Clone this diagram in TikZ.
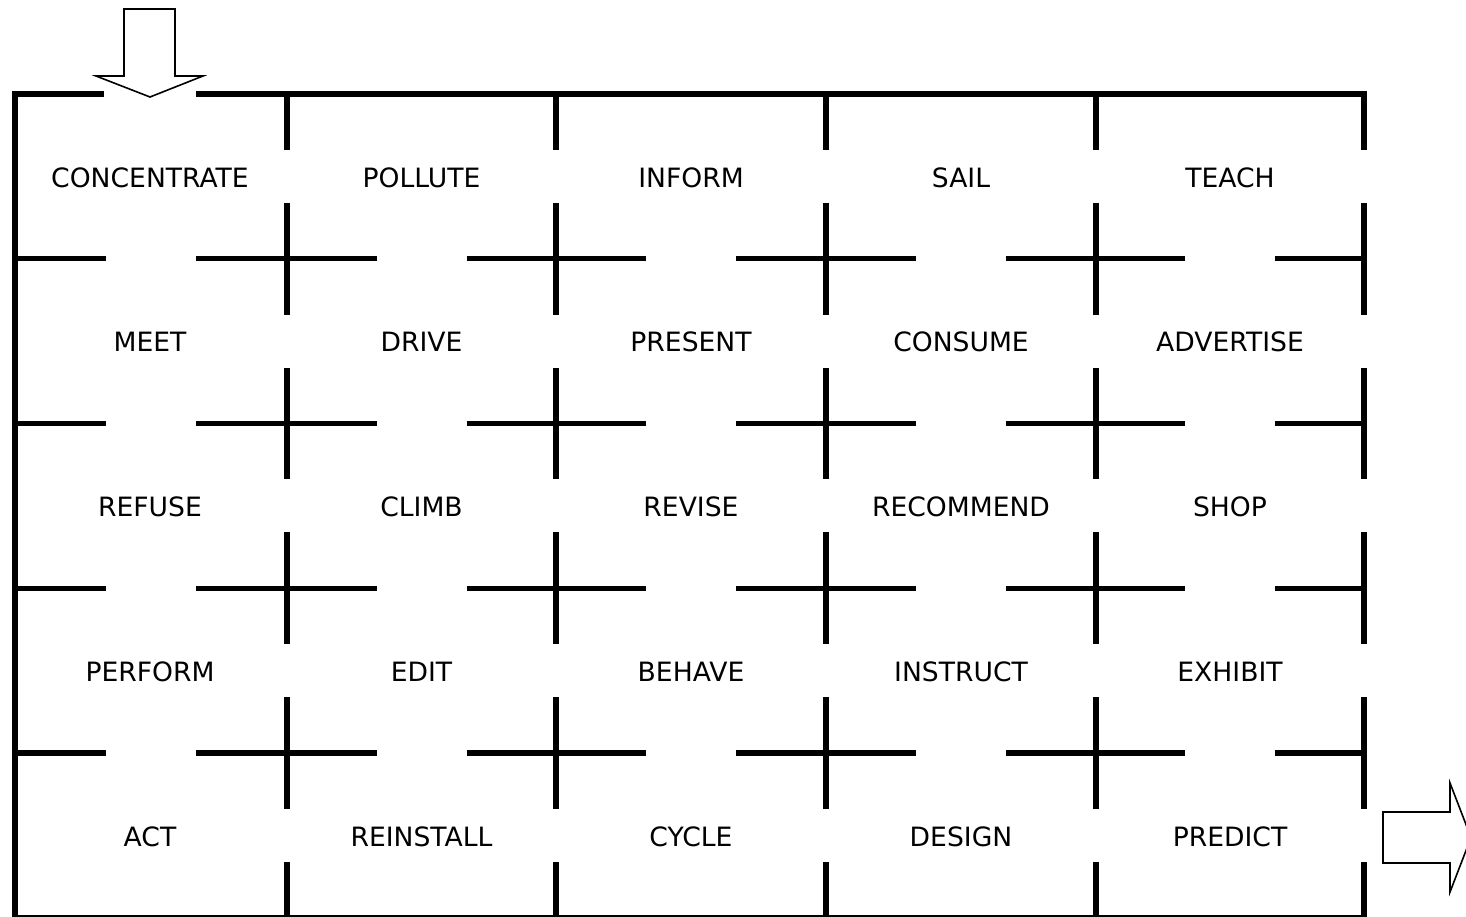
\documentclass[tikz,border=0pt]{standalone}
\usepackage{fontspec}
\setmainfont{DejaVu Sans}
\usetikzlibrary{calc}

\begin{document}
\begin{tikzpicture}[x=0.5pt, y=-0.5pt,
    wall/.style={line width=2.6pt},
    word/.style={font=\fontsize{13.3}{15}\selectfont, inner sep=0pt},
    bigarrow/.style={draw=black, fill=white, line width=0.8pt, line join=miter}]
  \useasboundingbox (0,0) rectangle (1466,916);
  % outer border
  \draw[wall] (104,94) -- (15,94) -- (15,917.75) -- (1364,917.75) -- (1364,862);
  \draw[wall] (196,94) -- (1364,94) -- (1364,150);
  % inner horizontal walls, gap in each cell
  \foreach \yy in {258.75,423.5,588.25,753}
    \foreach \xa/\xb in {15/287,287/556,556/826,826/1096,1096/1364} {
      \draw[wall] (\xa,\yy) -- ({(\xa+\xb)/2-45},\yy);
      \draw[wall] ({(\xa+\xb)/2+45},\yy) -- (\xb,\yy);
    }
  % vertical walls, gap in each cell
  \foreach \xx in {287,556,826,1096,1364}
    \foreach \ya/\yb in {94/258.75,258.75/423.5,423.5/588.25,588.25/753,753/917.75} {
      \draw[wall] (\xx,\ya) -- (\xx,{(\ya+\yb)/2-26.5});
      \draw[wall] (\xx,{(\ya+\yb)/2+26.5}) -- (\xx,\yb);
    }
  % entrance and exit
  \draw[bigarrow] (124,9) -- (175,9) -- (175,76) -- (203,76) -- (150,97)
        -- (96,76) -- (124,76) -- cycle;
  \draw[bigarrow] (1383,812) -- (1450,812) -- (1450,783) -- (1471,837.5)
        -- (1450,892) -- (1450,863) -- (1383,863) -- cycle;
  % words
  \node[word] (concentrate) at (150,177.4)   {CONCENTRATE};
  \node[word] (pollute)     at (421.5,177.4) {POLLUTE};
  \node[word] (inform)      at (691,177.4)   {INFORM};
  \node[word] (sail)        at (961,177.4)   {SAIL};
  \node[word] (teach)       at (1230,177.4)  {TEACH};
  \node[word] (meet)        at (150,342.1)   {MEET};
  \node[word] (drive)       at (421.5,342.1) {DRIVE};
  \node[word] (present)     at (691,342.1)   {PRESENT};
  \node[word] (consume)     at (961,342.1)   {CONSUME};
  \node[word] (advertise)   at (1230,342.1)  {ADVERTISE};
  \node[word] (refuse)      at (150,506.9)   {REFUSE};
  \node[word] (climb)       at (421.5,506.9) {CLIMB};
  \node[word] (revise)      at (691,506.9)   {REVISE};
  \node[word] (recommend)   at (961,506.9)   {RECOMMEND};
  \node[word] (shop)        at (1230,506.9)  {SHOP};
  \node[word] (perform)     at (150,671.6)   {PERFORM};
  \node[word] (edit)        at (421.5,671.6) {EDIT};
  \node[word] (behave)      at (691,671.6)   {BEHAVE};
  \node[word] (instruct)    at (961,671.6)   {INSTRUCT};
  \node[word] (exhibit)     at (1230,671.6)  {EXHIBIT};
  \node[word] (act)         at (150,836.4)   {ACT};
  \node[word] (reinstall)   at (421.5,836.4) {REINSTALL};
  \node[word] (cycle)       at (691,836.4)   {CYCLE};
  \node[word] (design)      at (961,836.4)   {DESIGN};
  \node[word] (predict)     at (1230,836.4)  {PREDICT};
\end{tikzpicture}
\end{document}
